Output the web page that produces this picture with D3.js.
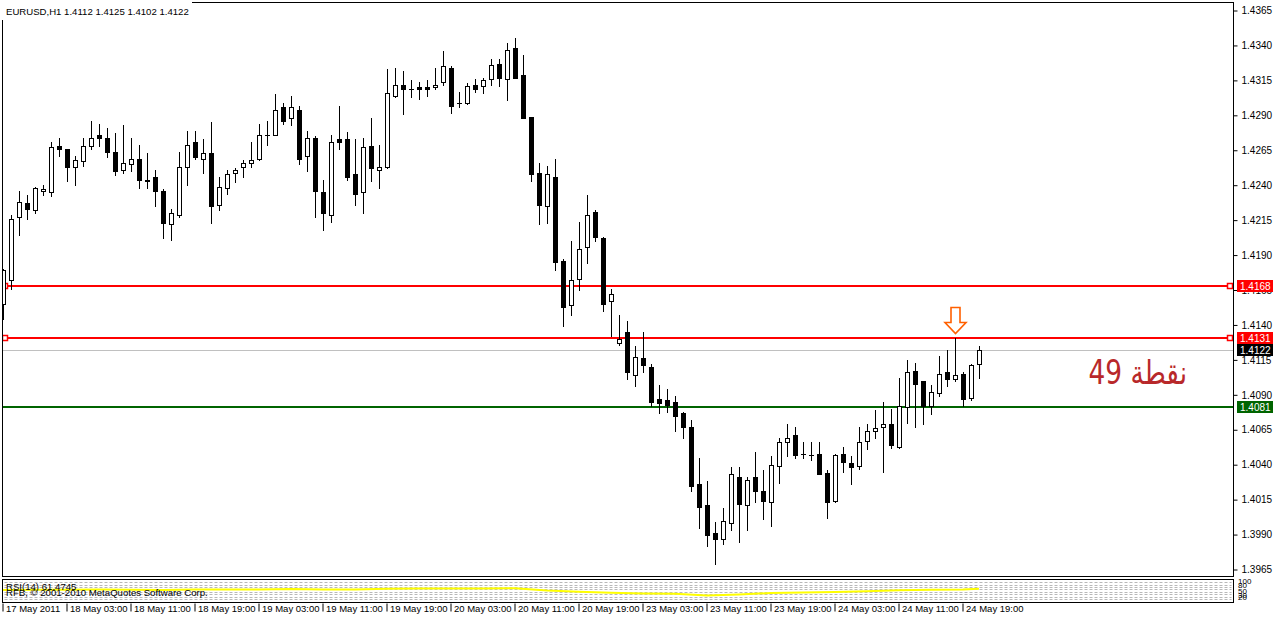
<!DOCTYPE html>
<html><head><meta charset="utf-8">
<script src="https://cdn.jsdelivr.net/npm/d3@7"></script>
<style>
body{margin:0;background:#fff}
svg{display:block}
text{font-family:"Liberation Sans",Arial,sans-serif}
</style>
</head><body>
<svg id="c" width="1274" height="618"></svg>
<script>
// ---- data (EURUSD H1) ----
const opens = [1.4155,1.4172,1.4217,1.4227,1.4222,1.4236,1.4235,1.4268,1.4266,1.4253,
1.4257,1.4268,1.4276,1.4274,1.4264,1.4251,1.4255,1.4259,1.4244,1.4246,
1.4236,1.4212,1.4219,1.4253,1.4271,1.4259,1.4263,1.4226,1.4238,1.4249,
1.4253,1.4256,1.4259,1.4276,1.4276,1.4296,1.4288,1.4294,1.4261,1.4274,
1.4235,1.4219,1.4273,1.4273,1.4248,1.4235,1.4268,1.4251,1.4253,1.4304,
1.4312,1.4309,1.4310,1.4310,1.4310,1.4314,1.4324,1.4299,1.4299,1.4312,
1.4311,1.4316,1.4327,1.4316,1.4338,1.4319,1.4289,1.4249,1.4225,1.4246,
1.4186,1.4154,1.4173,1.4196,1.4221,1.4202,1.4157,1.4127,1.4135,1.4104,
1.4116,1.4110,1.4087,1.4086,1.4085,1.4077,1.4067,1.4026,1.4011,1.3991,
1.3987,1.3998,1.4031,1.4011,1.4031,1.4021,1.4013,1.4039,1.4056,1.4061,
1.4048,1.4047,1.4048,1.4034,1.4014,1.4048,1.4041,1.4039,1.4057,1.4064,
1.4067,1.4069,1.4053,1.4081,1.4107,1.4100,1.4082,1.4091,1.4106,1.4101,
1.4105,1.4088,1.4112];
const highs = [1.4180,1.4219,1.4236,1.4233,1.4239,1.4240,1.4271,1.4274,1.4266,1.4261,
1.4274,1.4286,1.4284,1.4281,1.4277,1.4283,1.4274,1.4269,1.4263,1.4251,
1.4237,1.4223,1.4264,1.4279,1.4279,1.4273,1.4285,1.4246,1.4251,1.4252,
1.4258,1.4271,1.4284,1.4286,1.4305,1.4299,1.4304,1.4297,1.4279,1.4275,
1.4244,1.4276,1.4297,1.4278,1.4273,1.4274,1.4288,1.4269,1.4323,1.4324,
1.4322,1.4315,1.4314,1.4315,1.4324,1.4336,1.4325,1.4307,1.4313,1.4316,
1.4317,1.4330,1.4330,1.4342,1.4345,1.4333,1.4289,1.4256,1.4254,1.4259,
1.4187,1.4200,1.4214,1.4233,1.4222,1.4203,1.4166,1.4147,1.4143,1.4125,
1.4135,1.4112,1.4097,1.4094,1.4089,1.4078,1.4072,1.4045,1.4028,1.3999,
1.4009,1.4038,1.4038,1.4031,1.4049,1.4036,1.4046,1.4059,1.4069,1.4067,
1.4056,1.4056,1.4056,1.4036,1.4048,1.4053,1.4046,1.4067,1.4069,1.4079,
1.4085,1.4080,1.4102,1.4115,1.4113,1.4100,1.4097,1.4118,1.4122,1.4131,
1.4106,1.4112,1.4125];
const lows = [1.4144,1.4166,1.4204,1.4216,1.4220,1.4233,1.4232,1.4261,1.4243,1.4240,
1.4254,1.4266,1.4268,1.4260,1.4247,1.4249,1.4250,1.4238,1.4238,1.4225,
1.4202,1.4201,1.4217,1.4240,1.4259,1.4249,1.4213,1.4222,1.4234,1.4242,
1.4246,1.4253,1.4258,1.4269,1.4276,1.4284,1.4283,1.4255,1.4250,1.4217,
1.4208,1.4214,1.4266,1.4244,1.4226,1.4220,1.4243,1.4238,1.4252,1.4303,
1.4291,1.4303,1.4302,1.4304,1.4309,1.4312,1.4292,1.4296,1.4298,1.4307,
1.4306,1.4312,1.4311,1.4301,1.4317,1.4288,1.4243,1.4212,1.4213,1.4179,
1.4139,1.4147,1.4165,1.4184,1.4200,1.4150,1.4132,1.4126,1.4101,1.4096,
1.4106,1.4082,1.4077,1.4078,1.4064,1.4059,1.4021,1.3995,1.3982,1.3969,
1.3983,1.3993,1.3985,1.3993,1.4013,1.4001,1.3996,1.4027,1.4046,1.4045,
1.4045,1.4043,1.4033,1.4002,1.4013,1.4035,1.4026,1.4037,1.4051,1.4059,
1.4035,1.4052,1.4052,1.4070,1.4067,1.4069,1.4076,1.4089,1.4096,1.4100,
1.4082,1.4086,1.4102];
const closes = [1.4179,1.4216,1.4228,1.4223,1.4238,1.4237,1.4267,1.4266,1.4253,1.4258,
1.4268,1.4274,1.4274,1.4264,1.4250,1.4256,1.4259,1.4244,1.4243,1.4236,
1.4213,1.4220,1.4253,1.4269,1.4260,1.4263,1.4225,1.4239,1.4248,1.4251,
1.4256,1.4258,1.4276,1.4276,1.4294,1.4286,1.4296,1.4259,1.4274,1.4236,
1.4220,1.4271,1.4271,1.4246,1.4234,1.4267,1.4252,1.4253,1.4306,1.4312,
1.4309,1.4309,1.4309,1.4309,1.4312,1.4325,1.4297,1.4299,1.4311,1.4309,
1.4315,1.4326,1.4317,1.4337,1.4317,1.4288,1.4248,1.4226,1.4248,1.4185,
1.4153,1.4172,1.4194,1.4219,1.4203,1.4155,1.4162,1.4130,1.4106,1.4117,
1.4111,1.4085,1.4084,1.4083,1.4075,1.4067,1.4025,1.4010,1.3990,1.3987,
1.4000,1.4033,1.4012,1.4029,1.4021,1.4014,1.4040,1.4056,1.4059,1.4047,
1.4048,1.4047,1.4033,1.4013,1.4047,1.4042,1.4038,1.4056,1.4064,1.4066,
1.4069,1.4054,1.4082,1.4106,1.4098,1.4082,1.4092,1.4105,1.4101,1.4104,
1.4087,1.4111,1.4122];

const timeLabelBars = [0,8,16,24,32,40,48,56,64,72,80,88,96,104,112,120];
const timeLabels = ["17 May 2011","18 May 03:00","18 May 11:00","18 May 19:00","19 May 03:00",
"19 May 11:00","19 May 19:00","20 May 03:00","20 May 11:00","20 May 19:00","23 May 03:00",
"23 May 11:00","23 May 19:00","24 May 03:00","24 May 11:00","24 May 19:00"];
const priceTicks = [1.4365,1.4340,1.4315,1.4290,1.4265,1.4240,1.4215,1.4190,1.4165,1.4140,
1.4115,1.4090,1.4065,1.4040,1.4015,1.3990,1.3965];

const redLevels = [1.4168, 1.4131];
const greenLevel = 1.4081;
const bidPrice = 1.4122;

const rsiBars = [0,4,8,12,16,20,24,28,32,36,40,44,48,52,56,60,64,68,72,76,80,84,88,92,96,100,104,108,112,116,120,122];
const rsiValues = [55,56,56,57,56,55,57,57,58,60,57,57,61,62,62,62,64,52,46,41,38,36,28,33,40,43,45,49,54,56,57,61];
const rsiGridLevels = [10,22,34,46,58,70,82,94];
const rsiAxisLabels = ["100","80","50","30","20"];
const rsiAxisValues = [100,80,50,30,20];

const titleText = "EURUSD,H1  1.4112 1.4125 1.4102 1.4122";
const noteText = "نقطة 49";
const arrowBar = 119;

// ---- layout ----
const svg = d3.select("#c");
const L = 2.5, R = 1233.5, T = 2.5, B = 576.5;
const iT = 579.5, iB = 602.5;

const x = d3.scaleLinear().domain([0, 122]).range([3, 979]);
const y = d3.scaleLinear().domain([1.3965, 1.4365]).range([569.5, 10.5]);
const yi = d3.scaleLinear().domain([0, 100]).range([601, 581]);

svg.append("rect").attr("width",1274).attr("height",618).attr("fill","#fff");

svg.append("clipPath").attr("id","clipM").append("rect")
  .attr("x",L).attr("y",T).attr("width",R-L).attr("height",B-T);

const main = svg.append("g").attr("clip-path","url(#clipM)");

// horizontal lines
main.append("line").attr("x1",L).attr("x2",R)
  .attr("y1",Math.round(y(bidPrice))+0.5).attr("y2",Math.round(y(bidPrice))+0.5)
  .attr("stroke","#c0c0c0").attr("stroke-width",1);
main.append("line").attr("x1",L).attr("x2",R)
  .attr("y1",Math.round(y(greenLevel))).attr("y2",Math.round(y(greenLevel)))
  .attr("stroke","#006400").attr("stroke-width",2);
redLevels.forEach(p=>{
  const yy = Math.round(y(p));
  main.append("line").attr("x1",L).attr("x2",R).attr("y1",yy).attr("y2",yy)
    .attr("stroke","#ff0000").attr("stroke-width",2);
  [5, 1230].forEach(cx=>{
    main.append("rect").attr("x",cx-2.5).attr("y",yy-2.5).attr("width",5).attr("height",5)
      .attr("fill","#fff").attr("stroke","#ff0000").attr("stroke-width",1.5);
  });
});

// candles
const idx = d3.range(opens.length);
const cg = main.append("g").attr("shape-rendering","crispEdges");
idx.forEach(i=>{
  const cx = Math.round(x(i));
  const o = opens[i], c = closes[i];
  cg.append("line").attr("x1",cx+0.5).attr("x2",cx+0.5)
    .attr("y1",Math.round(y(highs[i]))).attr("y2",Math.round(y(lows[i]))+1)
    .attr("stroke","#000").attr("stroke-width",1);
  const top = Math.round(y(Math.max(o,c))), bot = Math.round(y(Math.min(o,c)));
  if (o === c) {
    cg.append("rect").attr("x",cx-2).attr("y",top).attr("width",5).attr("height",1).attr("fill","#000");
  } else if (c > o) {
    cg.append("rect").attr("x",cx-2+0.5).attr("y",top+0.5).attr("width",4).attr("height",Math.max(bot-top,1))
      .attr("fill","#fff").attr("stroke","#000").attr("stroke-width",1);
  } else {
    cg.append("rect").attr("x",cx-2).attr("y",top).attr("width",5).attr("height",Math.max(bot-top+1,2))
      .attr("fill","#000");
  }
});

// arrow
{
  const ax = Math.round(x(arrowBar)) + 0.5;
  const tip = y(highs[arrowBar]) - 4;
  const p = d3.path();
  p.moveTo(ax-4.5, tip-26); p.lineTo(ax+4.5, tip-26); p.lineTo(ax+4.5, tip-11);
  p.lineTo(ax+10.5, tip-11); p.lineTo(ax, tip); p.lineTo(ax-10.5, tip-11);
  p.lineTo(ax-4.5, tip-11); p.closePath();
  main.append("path").attr("d",p.toString()).attr("fill","#fff")
    .attr("stroke","#ff6000").attr("stroke-width",1.6).attr("stroke-linejoin","miter");
}

// note (Arabic + number)
main.append("g").attr("transform","translate(1187,384) scale(0.8,1)")
  .append("text").attr("x",0).attr("y",0).attr("direction","rtl")
  .attr("text-anchor","start").attr("fill","#b8282a")
  .style("font-family","'DejaVu Sans',sans-serif").style("font-size","33px").text(noteText);

// panel borders
svg.append("rect").attr("x",L).attr("y",T).attr("width",R-L).attr("height",B-T)
  .attr("fill","none").attr("stroke","#000").attr("stroke-width",1);

// title box
svg.append("rect").attr("x",0).attr("y",0).attr("width",192).attr("height",20).attr("fill","#fff");
svg.append("text").attr("x",6).attr("y",15).style("font-size","9.6px").attr("fill","#000").text(titleText);

// price axis
const yAxis = d3.axisRight(y).tickValues(priceTicks).tickFormat(d3.format(".4f")).tickSize(4).tickPadding(4);
const ya = svg.append("g").attr("transform",`translate(${R},0)`).call(yAxis);
ya.select(".domain").remove();
ya.selectAll("text").style("font-size","10px").style("font-family","'Liberation Sans',Arial,sans-serif").attr("fill","#000");
ya.selectAll("line").attr("stroke","#000");

// price boxes
const boxes = [
  {p:redLevels[0], bg:"#ff0000"},
  {p:redLevels[1], bg:"#ff0000"},
  {p:bidPrice, bg:"#000000"},
  {p:greenLevel, bg:"#006400"}
];
boxes.forEach(b=>{
  const yy = Math.round(y(b.p));
  svg.append("rect").attr("x",1237).attr("y",yy-6).attr("width",36).attr("height",12).attr("fill",b.bg);
  svg.append("text").attr("x",1240).attr("y",yy+4).attr("fill","#fff").style("font-size","10px").text(d3.format(".4f")(b.p));
});

// indicator panel
const ip = svg.append("g");
ip.append("rect").attr("x",L).attr("y",iT).attr("width",R-L).attr("height",iB-iT)
  .attr("fill","#fff").attr("stroke","#000").attr("stroke-width",1);
rsiGridLevels.forEach(v=>{
  const yy = Math.round(yi(v))+0.5;
  ip.append("line").attr("x1",L+2).attr("x2",R-2).attr("y1",yy).attr("y2",yy)
    .attr("stroke","#b8b8b8").attr("stroke-width",1).attr("stroke-dasharray","3,2");
});
ip.append("path").datum(rsiBars.map((b,k)=>[x(b), yi(rsiValues[k])]))
  .attr("d", d3.line()).attr("fill","none").attr("stroke","#ffff00").attr("stroke-width",2);
ip.append("text").attr("x",6).attr("y",590).style("font-size","9.6px").attr("fill","#000").text("RSI(14) 61.4745");
ip.append("text").attr("x",6).attr("y",596).style("font-size","9.6px").attr("fill","#000").text("RFB, © 2001-2010 MetaQuotes Software Corp.");
rsiAxisLabels.forEach((t,k)=>{
  ip.append("text").attr("x",1238).attr("y",yi(rsiAxisValues[k])+3).style("font-size","8px").attr("fill","#000").text(t);
});

// time axis
const xAxis = d3.axisBottom(x).tickValues(timeLabelBars).tickFormat((d,i)=>timeLabels[i]).tickSize(8).tickPadding(0);
const xa = svg.append("g").attr("transform",`translate(-0.5,${iB+1})`).call(xAxis);
xa.select(".domain").remove();
xa.selectAll("line").attr("stroke","#000");
xa.selectAll("text").attr("text-anchor","start").attr("dx","3").attr("y",2).attr("dy","0.71em")
  .style("font-size","9.5px").style("font-family","'Liberation Sans',Arial,sans-serif").attr("fill","#000");
</script>
</body></html>
